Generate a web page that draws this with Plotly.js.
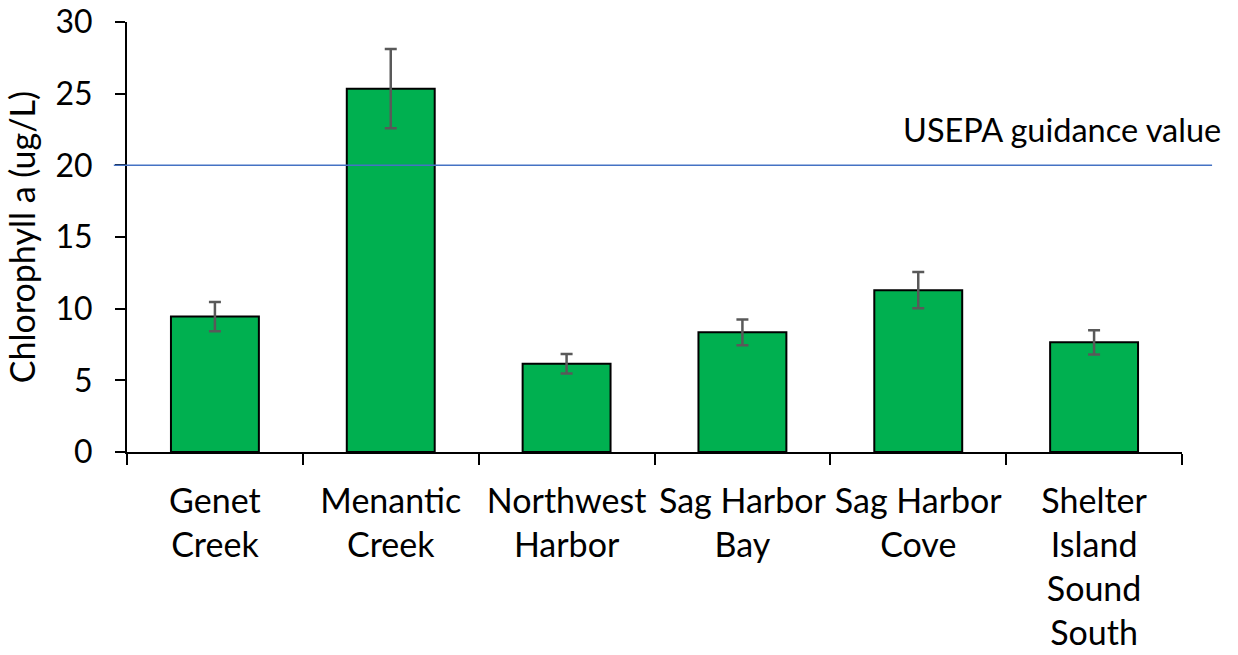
<!DOCTYPE html>
<html>
<head>
<meta charset="utf-8">
<script src="https://cdn.plot.ly/plotly-3.0.1.min.js"></script>
<style>html,body{margin:0;padding:0;background:#fff;}#chart{width:1238px;height:655px;}</style>
</head>
<body>
<div id="chart"></div>
<script>
const categories = ["Genet<br>Creek", "Menantic<br>Creek", "Northwest<br>Harbor", "Sag Harbor<br>Bay", "Sag Harbor<br>Cove", "Shelter<br>Island<br>Sound<br>South"];
const chlorophyll = [9.45, 25.35, 6.15, 8.35, 11.29, 7.65];
const errors = [1.02, 2.77, 0.68, 0.9, 1.26, 0.85];
const guidanceValue = 20;
const guidanceLabel = "USEPA guidance value";
const yTitle = "Chlorophyll a (ug/L)";

const FONT = "Lato, 'Open Sans', sans-serif";

const trace = {
  type: "bar",
  x: categories,
  y: chlorophyll,
  marker: {color: "#00B050", line: {color: "#000000", width: 2}},
  error_y: {type: "data", array: errors, visible: true, color: "#595959", thickness: 2.5, width: 6},
  hoverinfo: "x+y"
};

const layout = {
  width: 1238, height: 655,
  margin: {l: 127, r: 56, t: 22, b: 203},
  paper_bgcolor: "#ffffff", plot_bgcolor: "#ffffff",
  showlegend: false,
  bargap: 0.5,
  font: {family: FONT, size: 32, color: "#000000"},
  xaxis: {
    type: "category",
    showline: true, linecolor: "#000000", linewidth: 2,
    ticks: "outside", tickson: "boundaries", ticklen: 11, tickwidth: 2, tickcolor: "#000000",
    tickfont: {family: FONT, size: 34, color: "#000000"},
    ticklabelstandoff: 18,
    tickangle: 0,
    showgrid: false, zeroline: false
  },
  yaxis: {
    range: [0, 30],
    tickvals: [0, 5, 10, 15, 20, 25, 30],
    showline: true, linecolor: "#000000", linewidth: 2,
    ticks: "outside", ticklen: 10, tickwidth: 2, tickcolor: "#000000",
    tickfont: {family: FONT, size: 32, color: "#000000"},
    ticklabelstandoff: 16,
    showgrid: false, zeroline: false,
    title: {text: yTitle, font: {family: FONT, size: 34, color: "#000000"}, standoff: 10}
  },
  shapes: [{
    type: "line", xref: "paper", yref: "y",
    x0: -0.0125, x1: 1.0285, y0: guidanceValue, y1: guidanceValue,
    line: {color: "#4472C4", width: 1.5}
  }],
  annotations: [{
    xref: "paper", yref: "y", x: 1.0385, y: guidanceValue + 1.0,
    xanchor: "right", yanchor: "bottom", showarrow: false,
    text: guidanceLabel, font: {family: FONT, size: 32.5, color: "#000000"}
  }]
};

Plotly.newPlot("chart", [trace], layout, {displayModeBar: false, staticPlot: true});
</script>
</body>
</html>
